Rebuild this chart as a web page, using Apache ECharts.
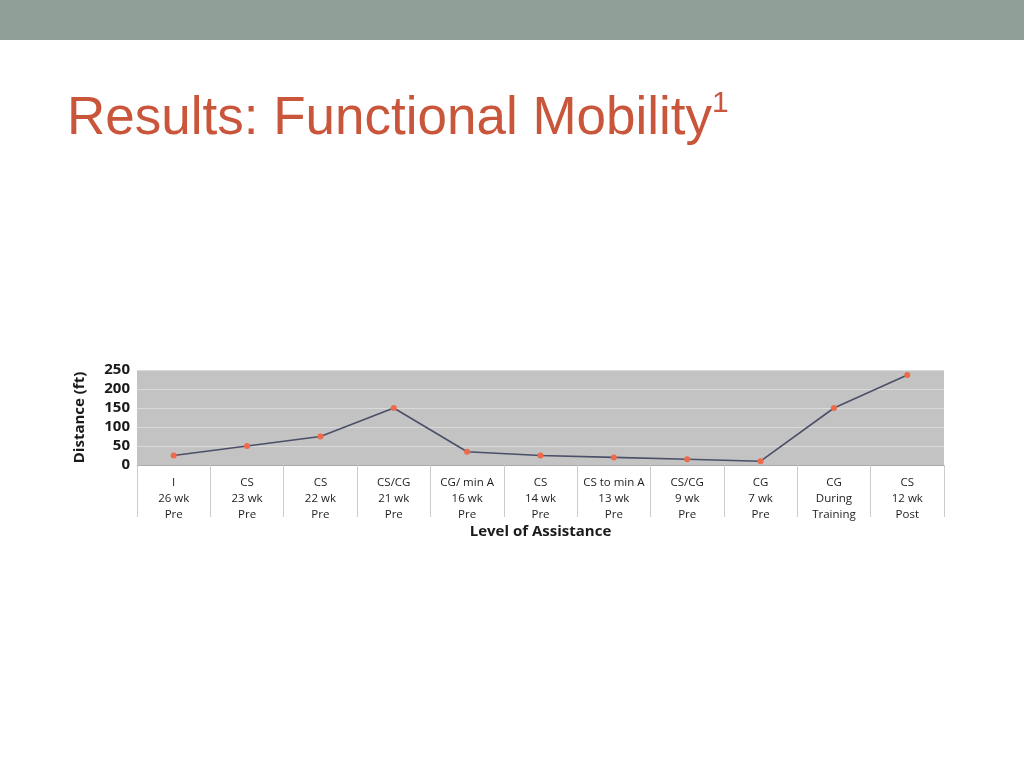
<!DOCTYPE html>
<html>
<head>
<meta charset="utf-8">
<script src="https://cdn.jsdelivr.net/npm/echarts@6/dist/echarts.min.js"></script>
<style>
html,body{margin:0;padding:0;background:#fff;}
#main{width:1024px;height:768px;}
</style>
</head>
<body>
<div id="main"></div>
<script>
// level of assistance / time point
var categories = [
	'I\n26 wk\nPre',
	'CS\n23 wk\nPre',
	'CS\n22 wk\nPre',
	'CS/CG\n21 wk\nPre',
	'CG/ min A\n16 wk\nPre',
	'CS\n14 wk\nPre',
	'CS to min A\n13 wk\nPre',
	'CS/CG\n9 wk\nPre',
	'CG\n7 wk\nPre',
	'CG\nDuring\nTraining',
	'CS\n12 wk\nPost'
];
// distance walked (ft)
var distance = [25, 50, 75, 150, 35, 25, 20, 15, 10, 150, 237];
var yTicks = [0, 50, 100, 150, 200, 250];

var myChart = echarts.init(document.getElementById('main'));
var option = {
	backgroundColor: '#ffffff',
	animation: false,
	graphic: [{
		type: 'rect',
		left: 0,
		top: 0,
		shape: {width: 1024, height: 40},
		style: {fill: '#909f98'}
	}],
	title: {
		text: '{a|Results: Functional Mobility}{s|1}',
		left: 62,
		top: 84,
		textStyle: {
			fontWeight: 'normal',
			rich: {
				a: {fontFamily: 'Liberation Sans', fontWeight: 'normal', fontSize: 53, color: '#c9553b', lineHeight: 60},
				s: {fontFamily: 'Liberation Sans', fontWeight: 'normal', fontSize: 30, color: '#c9553b', verticalAlign: 'top', lineHeight: 60}
			}
		}
	},
	grid: {
		left: 137,
		right: 80,
		top: 370,
		height: 95,
		show: true,
		backgroundColor: '#c3c3c3',
		borderWidth: 0
	},
	xAxis: {
		type: 'category',
		data: categories,
		boundaryGap: true,
		name: 'Level of Assistance',
		nameLocation: 'middle',
		nameGap: 58,
		nameTextStyle: {fontFamily: 'Open Sans', fontWeight: 'bold', fontSize: 15, color: '#1a1a1a'},
		axisLine: {show: true, lineStyle: {color: '#aaaaaa', width: 1}},
		axisTick: {show: true, interval: 0, length: 52, lineStyle: {color: '#cccccc', width: 1}},
		axisLabel: {
			interval: 0,
			margin: 10,
			fontFamily: 'Open Sans',
			fontSize: 11.5,
			lineHeight: 16,
			color: '#1e1e1e'
		}
	},
	yAxis: {
		type: 'value',
		min: 0,
		max: 250,
		interval: 50,
		name: 'Distance (ft)',
		nameLocation: 'middle',
		nameRotate: 90,
		nameGap: 50,
		nameTextStyle: {fontFamily: 'Open Sans', fontWeight: 'bold', fontSize: 15, color: '#1a1a1a'},
		axisLine: {show: false},
		axisTick: {show: false},
		axisLabel: {
			margin: 7,
			fontFamily: 'Open Sans',
			fontWeight: 'bold',
			fontSize: 15,
			color: '#1a1a1a',
			formatter: function (v) { return yTicks.indexOf(v) >= 0 ? String(v) : ''; }
		},
		splitLine: {show: true, lineStyle: {color: '#dadada', width: 1}}
	},
	series: [{
		type: 'line',
		data: distance,
		symbol: 'circle',
		symbolSize: 6,
		lineStyle: {color: '#4b5068', width: 1.6},
		itemStyle: {color: '#ee6a4a'}
	}]
};
myChart.setOption(option);
</script>
</body>
</html>
